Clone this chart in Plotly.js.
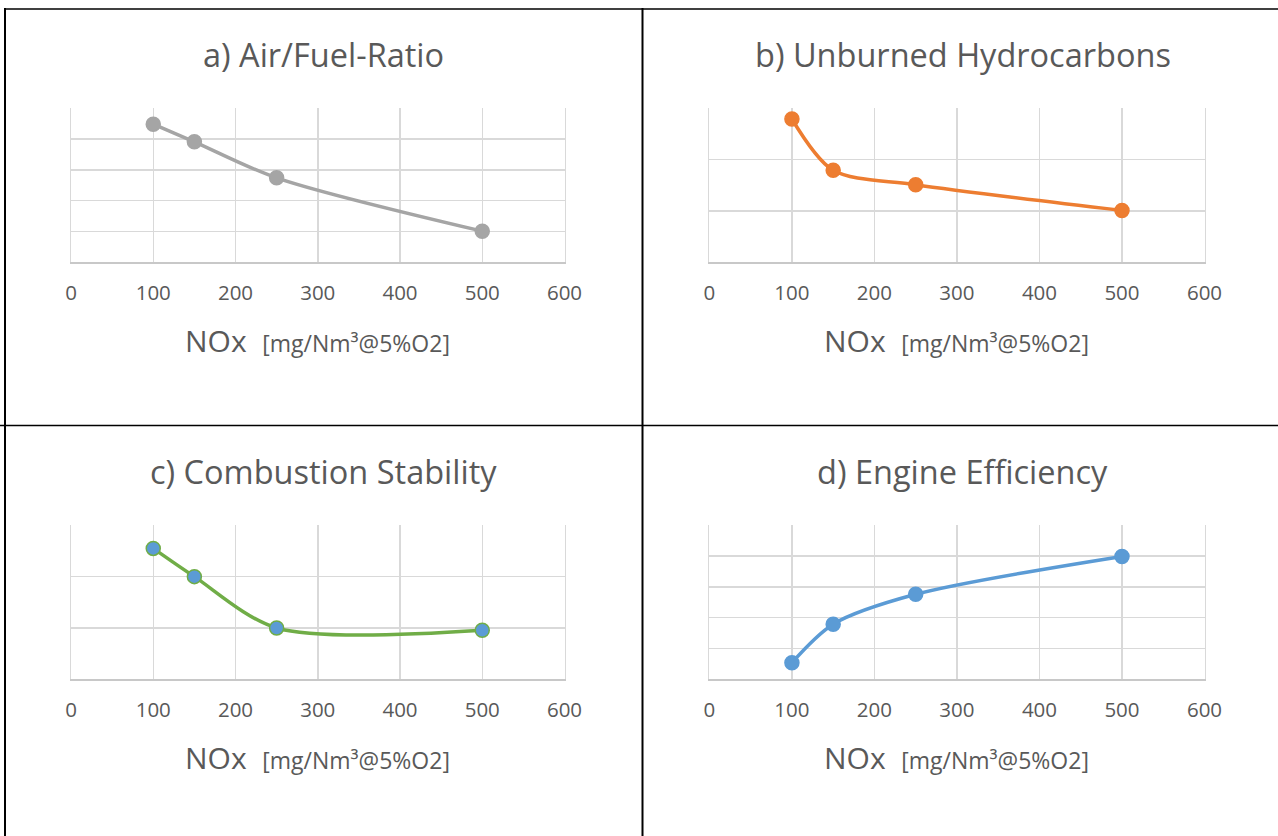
<!DOCTYPE html>
<html>
<head>
<meta charset="utf-8">
<script src="https://cdn.plot.ly/plotly-3.0.1.min.js"></script>
<style>
html,body{margin:0;padding:0;background:#fff;}
#chart{width:1278px;height:836px;}
</style>
</head>
<body>
<div id="chart"></div>
<script>
// ---- data ----
var nox = [100, 150, 250, 500];
var airFuel = [4.48, 3.91, 2.74, 1.01];
var hydrocarbons = [2.79, 1.79, 1.51, 1.01];
var stability = [2.55, 2.00, 1.00, 0.955];
var efficiency = [0.54, 1.79, 2.76, 3.99];
var xTicks = [0, 100, 200, 300, 400, 500, 600];
var titles = ["a) Air/Fuel-Ratio", "b) Unburned Hydrocarbons", "c) Combustion Stability", "d) Engine Efficiency"];
var axisTitleMain = "NOx";
var axisTitleUnit = "[mg/Nm³@5%O2]";

var W = 1278, H = 836;
var FONT = "'Open Sans', Lato, sans-serif";
var TXT = "#595959";
var GRID = "#D9D9D9";

function px(x){ return x / W; }
function py(y){ return 1 - y / H; }

// plot boxes in pixels [left, right, top, bottom]
var boxes = [
  [71, 564.5, 108.2, 262.3],
  [709.4, 1204.5, 108.2, 262.3],
  [71, 564.5, 525.3, 679.3],
  [709.4, 1204.5, 525.3, 679.3]
];
var yMax = [5, 3, 3, 5];

var series = [
  {y: airFuel, line: "#A5A5A5", fill: "#A5A5A5", outline: "#A5A5A5"},
  {y: hydrocarbons, line: "#ED7D31", fill: "#ED7D31", outline: "#ED7D31"},
  {y: stability, line: "#70AD47", fill: "#5B9BD5", outline: "#70AD47"},
  {y: efficiency, line: "#5B9BD5", fill: "#5B9BD5", outline: "#5B9BD5"}
];

var data = [];
var layout = {
  width: W, height: H,
  margin: {l:0, r:0, t:0, b:0},
  paper_bgcolor: "#fff",
  plot_bgcolor: "#fff",
  showlegend: false,
  font: {family: FONT, color: TXT},
  annotations: [],
  shapes: []
};

for (var i = 0; i < 4; i++) {
  var s = series[i];
  var sfx = i === 0 ? "" : String(i + 1);
  data.push({
    x: nox, y: s.y,
    xaxis: "x" + sfx, yaxis: "y" + sfx,
    mode: "lines+markers",
    line: {color: s.line, width: 3.5, shape: "spline", smoothing: 0.85},
    marker: {size: 14, color: s.fill, line: {color: s.outline, width: 1.5}},
    hoverinfo: "skip"
  });
  var b = boxes[i];
  layout["xaxis" + sfx] = {
    domain: [px(b[0]), px(b[1])],
    anchor: "y" + sfx,
    range: [0, 600],
    tickvals: xTicks,
    ticktext: xTicks.map(String),
    showgrid: true, gridcolor: GRID, gridwidth: 1.5,
    zeroline: false,
    showline: true, linecolor: "#C8C8C8", linewidth: 1.5,
    ticks: "",
    ticklabelstandoff: 12,
    tickfont: {family: FONT, size: 20.5, color: TXT},
    fixedrange: true
  };
  var yt = [];
  for (var k = 0; k <= yMax[i]; k++) yt.push(k);
  layout["yaxis" + sfx] = {
    domain: [py(b[3]), py(b[2])],
    anchor: "x" + sfx,
    range: [0, yMax[i]],
    tickvals: yt,
    showticklabels: false,
    showgrid: true, gridcolor: GRID, gridwidth: 1.5,
    zeroline: false,
    showline: true, linecolor: GRID, linewidth: 1.5, mirror: true,
    ticks: "",
    fixedrange: true
  };
  var cx = (b[0] + b[1]) / 2;
  layout.annotations.push({
    xref: "paper", yref: "paper",
    x: px(cx + 6), y: py(b[2] - 54),
    xanchor: "center", yanchor: "middle",
    text: titles[i], showarrow: false,
    font: {family: FONT, size: 32.5, color: TXT}
  });
  layout.annotations.push({
    xref: "paper", yref: "paper",
    x: px(cx), y: py(b[3] + 78),
    xanchor: "center", yanchor: "middle",
    text: axisTitleMain + "&nbsp;&nbsp;<span style='font-size:23px'>" + axisTitleUnit + "</span>",
    showarrow: false,
    font: {family: FONT, size: 30, color: TXT}
  });
}

// table borders
function line(x0, y0, x1, y1, w) {
  layout.shapes.push({type: "line", xref: "paper", yref: "paper",
    x0: px(x0), y0: py(y0), x1: px(x1), y1: py(y1),
    line: {color: "#000", width: w}});
}
line(4, 9, 1278, 9, 1.5);
line(0, 425.5, 1278, 425.5, 1.5);
line(5, 8, 5, 836, 2);
line(642.5, 8, 642.5, 836, 2);

Plotly.newPlot("chart", data, layout, {displayModeBar: false, staticPlot: true});
</script>
</body>
</html>
